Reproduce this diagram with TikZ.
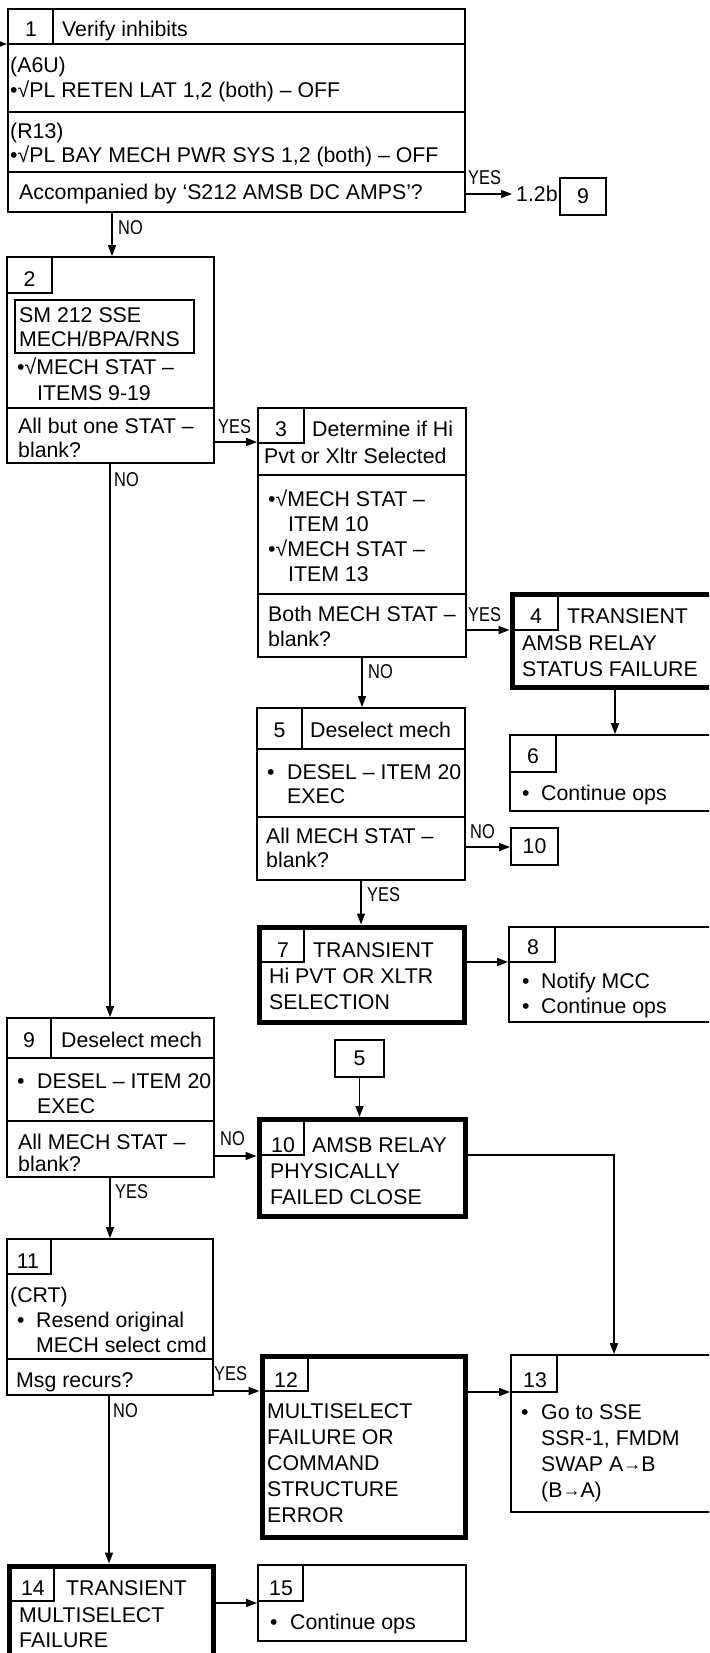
\documentclass[tikz,border=0pt]{standalone}
\usepackage{fontspec}
\setmainfont{Liberation Sans}
\newfontfamily\narrowfont[FakeStretch=0.82]{Liberation Sans}
\usetikzlibrary{arrows.meta}
\newcommand\myarrow{{\fontsize{18pt}{18pt}\selectfont\raisebox{0.5pt}{→}}}
\begin{document}
\begin{tikzpicture}[x=1pt,y=-1pt,
  bx/.style={draw, line width=1.8pt, inner sep=0pt, anchor=center},
  tbx/.style={draw, line width=5pt, inner sep=0pt, anchor=center},
  cell/.style={draw, line width=1.2pt, inner sep=0pt, anchor=center},
  sepl/.style={line width=1.8pt},
  tx/.style={anchor=base west, inner sep=0pt, font={\fontsize{21.3pt}{25pt}\selectfont}},
  num/.style={anchor=base, inner sep=0pt, font={\fontsize{21.3pt}{25pt}\selectfont}},
  lbl/.style={anchor=base west, inner sep=0pt, font={\narrowfont\fontsize{20pt}{22pt}\selectfont}},
  arr/.style={line width=1.5pt, -{Triangle[length=11pt,width=8pt]}},
  ln/.style={line width=1.5pt}]
\useasboundingbox (0,0) rectangle (709,1653);
\clip (0,0) rectangle (709,1653);

% ---------- Box 1 ----------
\node[cell, minimum width=45pt, minimum height=35pt] (n1) at (30.5,26.5) {};
\draw[sepl] (8,44) -- (465,44) (8,112) -- (465,112) (8,172) -- (465,172);
\node[bx, minimum width=457pt, minimum height=203pt] (b1) at (236.5,110.5) {};
\node[num] (t1a) at (31,37) {1};
\node[tx] (t1b) at (62,37) {Verify inhibits};
\node[tx] (t1c) at (10,73) {(A6U)};
\node[tx] (t1d) at (10,98) {•√PL RETEN LAT 1,2 (both) – OFF};
\node[tx] (t1e) at (10,139) {(R13)};
\node[tx] (t1f) at (10,163) {•√PL BAY MECH PWR SYS 1,2 (both) – OFF};
\node[tx] (t1g) at (19,200) {Accompanied by ‘S212 AMSB DC AMPS’?};
\node[tx] (r12b) at (516,202) {1.2b};
\node[bx, minimum width=46pt, minimum height=37pt, font={\fontsize{21.3pt}{25pt}\selectfont}] (r9) at (583,196.5) {9};

% ---------- Box 2 ----------
\node[cell, minimum width=45pt, minimum height=36pt] (n2) at (29.5,275) {};
\node[bx, minimum width=179pt, minimum height=53pt] (ib2) at (104.5,326.5) {};
\draw[sepl] (7,408) -- (214,408);
\node[bx, minimum width=207pt, minimum height=206pt] (b2) at (110.5,360) {};
\node[num] (t2a) at (29.5,286) {2};
\node[tx] (t2b) at (19,322) {SM 212 SSE};
\node[tx] (t2c) at (19,346) {MECH/BPA/RNS};
\node[tx] (t2d) at (17,374) {•√MECH STAT –};
\node[tx] (t2e) at (37,400) {ITEMS 9-19};
\node[tx] (t2f) at (18,433) {All but one STAT –};
\node[tx] (t2g) at (18,457) {blank?};

% ---------- Box 3 ----------
\node[cell, minimum width=46pt, minimum height=35pt] (n3) at (281,425.5) {};
\draw[sepl] (258,475) -- (466,475) (258,594) -- (466,594);
\node[bx, minimum width=208pt, minimum height=249pt] (b3) at (362,532.5) {};
\node[num] (t3a) at (281,436) {3};
\node[tx] (t3b) at (312,436) {Determine if Hi};
\node[tx] (t3c) at (264,463) {Pvt or Xltr Selected};
\node[tx] (t3d) at (268,506) {•√MECH STAT –};
\node[tx] (t3e) at (288,531) {ITEM 10};
\node[tx] (t3f) at (268,556) {•√MECH STAT –};
\node[tx] (t3g) at (288,581) {ITEM 13};
\node[tx] (t3h) at (268,621) {Both MECH STAT –};
\node[tx] (t3i) at (268,646) {blank?};

% ---------- Box 4 ----------
\node[cell, minimum width=46pt, minimum height=36pt] (n4) at (535,612) {};
\node[tbx, minimum width=218pt, minimum height=93pt] (b4) at (621,640.5) {};
\node[num] (t4a) at (536,623) {4};
\node[tx] (t4b) at (567,623) {TRANSIENT};
\node[tx] (t4c) at (522,650) {AMSB RELAY};
\node[tx] (t4d) at (522,676) {STATUS FAILURE};

% ---------- Box 5 ----------
\node[cell, minimum width=45pt, minimum height=41pt] (n5) at (279.5,728.5) {};
\draw[sepl] (257,749) -- (465,749) (257,817) -- (465,817);
\node[bx, minimum width=208pt, minimum height=172pt] (b5) at (361,794) {};
\node[num] (t5a) at (279.5,737) {5};
\node[tx] (t5b) at (310,737) {Deselect mech};
\node[tx] (t5c) at (267,779) {•};
\node[tx] (t5d) at (287,779) {DESEL – ITEM 20};
\node[tx] (t5e) at (287,803) {EXEC};
\node[tx] (t5f) at (266,843) {All MECH STAT –};
\node[tx] (t5g) at (266,867) {blank?};
\node[bx, minimum width=47pt, minimum height=37pt, font={\fontsize{21.3pt}{25pt}\selectfont}] (r10) at (534.5,846.5) {10};

% ---------- Box 6 ----------
\node[cell, minimum width=46pt, minimum height=37pt] (n6) at (533,753.5) {};
\node[bx, minimum width=220pt, minimum height=76pt] (b6) at (620,773) {};
\node[num] (t6a) at (533,763) {6};
\node[tx] (t6b) at (522,800) {•};
\node[tx] (t6c) at (541,800) {Continue ops};

% ---------- Box 7 ----------
\node[cell, minimum width=44pt, minimum height=35pt] (n7) at (282,944.5) {};
\node[tbx, minimum width=205pt, minimum height=95pt] (b7) at (362,974.5) {};
\node[num] (t7a) at (283,957) {7};
\node[tx] (t7b) at (313,957) {TRANSIENT};
\node[tx] (t7c) at (269,983) {Hi PVT OR XLTR};
\node[tx] (t7d) at (269,1009) {SELECTION};

% ---------- Box 8 ----------
\node[cell, minimum width=46pt, minimum height=35pt] (n8) at (532,944.5) {};
\node[bx, minimum width=221pt, minimum height=95pt] (b8) at (619.5,974.5) {};
\node[num] (t8a) at (533,954) {8};
\node[tx] (t8b) at (522,988) {•};
\node[tx] (t8c) at (541,988) {Notify MCC};
\node[tx] (t8d) at (522,1013) {•};
\node[tx] (t8e) at (541,1013) {Continue ops};

% ---------- Box 9 ----------
\node[cell, minimum width=44pt, minimum height=40pt] (n9) at (29,1038) {};
\draw[sepl] (7,1058) -- (214,1058) (7,1121) -- (214,1121);
\node[bx, minimum width=207pt, minimum height=159pt] (b9) at (110.5,1097.5) {};
\node[num] (t9a) at (29,1047) {9};
\node[tx] (t9b) at (61,1047) {Deselect mech};
\node[tx] (t9c) at (17,1088) {•};
\node[tx] (t9d) at (37,1088) {DESEL – ITEM 20};
\node[tx] (t9e) at (37,1113) {EXEC};
\node[tx] (t9f) at (18,1149) {All MECH STAT –};
\node[tx] (t9g) at (18,1171) {blank?};

\node[bx, minimum width=49pt, minimum height=37pt, font={\fontsize{21.3pt}{25pt}\selectfont}] (r5) at (359.5,1058.5) {5};

% ---------- Box 10 ----------
\node[cell, minimum width=45pt, minimum height=35pt] (n10) at (281.5,1137.5) {};
\node[tbx, minimum width=206pt, minimum height=97pt] (b10) at (362,1168) {};
\node[num] (t10a) at (283,1152) {10};
\node[tx] (t10b) at (312,1152) {AMSB RELAY};
\node[tx] (t10c) at (270,1178) {PHYSICALLY};
\node[tx] (t10d) at (270,1204) {FAILED CLOSE};

% ---------- Box 11 ----------
\node[cell, minimum width=44pt, minimum height=35pt] (n11) at (29,1256.5) {};
\draw[sepl] (7,1359) -- (213,1359);
\node[bx, minimum width=206pt, minimum height=156pt] (b11) at (110,1317) {};
\node[num] (t11a) at (28,1268) {11};
\node[tx] (t11b) at (10,1302) {(CRT)};
\node[tx] (t11c) at (17,1327) {•};
\node[tx] (t11d) at (36,1327) {Resend original};
\node[tx] (t11e) at (36,1352) {MECH select cmd};
\node[tx] (t11f) at (16,1387) {Msg recurs?};

% ---------- Box 12 ----------
\node[cell, minimum width=46pt, minimum height=35pt] (n12) at (285,1373.5) {};
\node[tbx, minimum width=203pt, minimum height=181pt] (b12) at (363.5,1446.5) {};
\node[num] (t12a) at (286,1387) {12};
\node[tx] (t12b) at (267,1418) {MULTISELECT};
\node[tx] (t12c) at (267,1444) {FAILURE OR};
\node[tx] (t12d) at (267,1470) {COMMAND};
\node[tx] (t12e) at (267,1496) {STRUCTURE};
\node[tx] (t12f) at (267,1522) {ERROR};

% ---------- Box 13 ----------
\node[cell, minimum width=46pt, minimum height=37pt] (n13) at (534,1373.5) {};
\node[bx, minimum width=219pt, minimum height=157pt] (b13) at (620.5,1433.5) {};
\node[num] (t13a) at (535,1387) {13};
\node[tx] (t13b) at (521,1419) {•};
\node[tx] (t13c) at (541,1419) {Go to SSE};
\node[tx] (t13d) at (541,1445) {SSR-1, FMDM};
\node[tx] (t13e) at (541,1471) {SWAP A\myarrow B};
\node[tx] (t13f) at (541,1497) {(B\myarrow A)};

% ---------- Box 14 ----------
\node[cell, minimum width=45pt, minimum height=35pt] (n14) at (31.5,1583.5) {};
\node[tbx, minimum width=204pt, minimum height=124pt] (b14) at (111,1628) {};
\node[num] (t14a) at (33,1595) {14};
\node[tx] (t14b) at (66,1595) {TRANSIENT};
\node[tx] (t14c) at (19,1622) {MULTISELECT};
\node[tx] (t14d) at (19,1647) {FAILURE};

% ---------- Box 15 ----------
\node[cell, minimum width=45pt, minimum height=36pt] (n15) at (280.5,1583) {};
\node[bx, minimum width=208pt, minimum height=76pt] (b15) at (362,1603) {};
\node[num] (t15a) at (281,1595) {15};
\node[tx] (t15b) at (270,1629) {•};
\node[tx] (t15c) at (290,1629) {Continue ops};

% ---------- Labels ----------
\node[lbl] (y1) at (468,185) {YES};
\node[lbl] (no1) at (118,235) {NO};
\node[lbl] (y2) at (218,433) {YES};
\node[lbl] (no2) at (114,486) {NO};
\node[lbl] (y3) at (468,621) {YES};
\node[lbl] (no3) at (368,678) {NO};
\node[lbl] (no5) at (470,838) {NO};
\node[lbl] (y5) at (367,901) {YES};
\node[lbl] (no9) at (220,1145) {NO};
\node[lbl] (y9) at (115,1198) {YES};
\node[lbl] (y11) at (214,1380) {YES};
\node[lbl] (no11) at (113,1417) {NO};

% ---------- Connectors ----------
\coordinate (in1) at (0,44);
\draw[arr] (in1) -- (in1 -| b1.west);
\draw[arr, shorten >=4pt] (b1.east |- 0,194) -- (r12b.west |- 0,194);
\draw[arr] (b1.south -| 112,0) -- (b2.north -| 112,0);
\draw[arr] (b2.east |- 0,442) -- (b3.west |- 0,442);
\draw[arr] (b2.south -| 110,0) -- (b9.north -| 110,0);
\draw[arr] (b3.east |- 0,630) -- (b4.west |- 0,630);
\draw[arr] (b3.south -| 362,0) -- (b5.north -| 362,0);
\draw[arr] (b4.south -| 615,0) -- (b6.north -| 615,0);
\draw[arr] (b5.east |- 0,847) -- (r10.west |- 0,847);
\draw[arr] (b5.south -| 361,0) -- (b7.north -| 361,0);
\draw[arr] (b7.east |- 0,962) -- (b8.west |- 0,962);
\draw[arr] (r5.south) -- (b10.north -| r5.south);
\draw[arr] (b9.east |- 0,1156) -- (b10.west |- 0,1156);
\draw[arr] (b9.south -| 110,0) -- (b11.north -| 110,0);
\draw[arr] (b10.east |- 0,1155) -| (b13.north -| 614,0);
\draw[arr] (b11.east |- 0,1391) -- (b12.west |- 0,1391);
\draw[arr] (b11.south -| 109,0) -- (b14.north -| 109,0);
\draw[arr] (b12.east |- 0,1392) -- (b13.west |- 0,1392);
\draw[arr] (b14.east |- 0,1603) -- (b15.west |- 0,1603);
\end{tikzpicture}
\end{document}
